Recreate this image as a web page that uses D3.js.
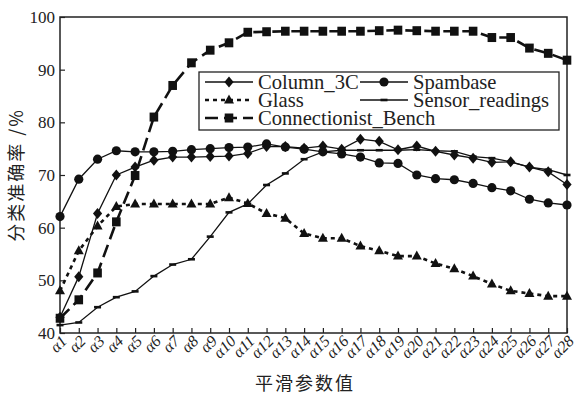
<!DOCTYPE html>
<html lang="zh">
<head>
  <meta charset="UTF-8">
  <title>分类准确率 vs 平滑参数值</title>
  <script src="https://d3js.org/d3.v7.min.js"></script>
  <style>
    body { margin: 0; background: #fff; }
    text { font-family: "Liberation Serif", "DejaVu Serif", serif; fill: #222; }
    .cjk { font-family: "Noto Sans CJK SC", sans-serif; }
  </style>
</head>
<body>
<script>
// categories: smoothing parameter values a1..a28
const params = d3.range(1, 29).map(i => "α" + i);
const yTicks = [40, 50, 60, 70, 80, 90, 100];

// series values (classification accuracy %)
const column3C = [43.0, 50.7, 62.7, 70.0, 71.5, 72.8, 73.4, 73.4, 73.5, 73.6, 74.1, 75.4, 75.4, 75.1,
  75.5, 74.9, 76.8, 76.4, 74.8, 75.5, 74.5, 73.8, 73.2, 72.4, 72.5, 71.5, 70.6, 68.2];
const spambase = [62.1, 69.2, 73.0, 74.6, 74.4, 74.4, 74.5, 74.8, 75.0, 75.2, 75.3, 75.9, 75.3, 74.9,
  74.4, 74.0, 73.4, 72.3, 72.2, 70.0, 69.3, 69.1, 68.4, 67.6, 67.0, 65.4, 64.7, 64.3];
const glass = [48.0, 55.6, 60.3, 64.0, 64.5, 64.5, 64.5, 64.5, 64.5, 65.7, 64.6, 62.7, 61.8, 58.9,
  58.0, 58.0, 56.5, 55.6, 54.6, 54.6, 53.2, 52.2, 50.8, 49.3, 48.0, 47.5, 47.0, 47.0];
const sensorReadings = [41.5, 42.0, 44.9, 46.8, 47.9, 50.8, 53.0, 54.0, 58.3, 62.9, 64.5, 68.1, 70.3, 73.0,
  74.4, 74.7, 74.7, 74.7, 74.7, 74.8, 74.6, 74.5, 73.5, 73.2, 72.5, 71.5, 71.0, 70.0];
const connectionistBench = [42.8, 46.3, 51.4, 61.1, 69.9, 81.0, 87.0, 91.3, 93.7, 95.1, 97.1, 97.2, 97.3, 97.3,
  97.3, 97.3, 97.3, 97.4, 97.5, 97.4, 97.3, 97.3, 97.3, 96.1, 96.1, 94.1, 93.1, 91.8];

const series = [
  { name: "Column_3C", values: column3C, marker: "diamond", dash: null, width: 1.3 },
  { name: "Spambase", values: spambase, marker: "circle", dash: null, width: 1.3 },
  { name: "Glass", values: glass, marker: "triangle", dash: "4,4", width: 2.6 },
  { name: "Sensor_readings", values: sensorReadings, marker: "bar", dash: null, width: 1.3 },
  { name: "Connectionist_Bench", values: connectionistBench, marker: "square", dash: "13,6", width: 2.6 }
];

const width = 576, height = 395;
const mLeft = 60, mRight = 567, mTop = 17, mBottom = 333;

const svg = d3.select("body").append("svg")
  .attr("width", width)
  .attr("height", height);

const x = d3.scalePoint().domain(params).range([mLeft, mRight]);
const y = d3.scaleLinear().domain([40, 100]).range([mBottom, mTop]);

// y axis ticks and labels
const yAxis = svg.append("g").attr("transform", `translate(${mLeft},0)`)
  .call(d3.axisRight(y).tickValues(yTicks).tickSize(5).tickFormat(""));
yAxis.select(".domain").remove();
yAxis.selectAll("line").attr("stroke", "#222").attr("stroke-width", 1.2);
svg.append("g").selectAll("text").data(yTicks).enter().append("text")
  .attr("x", mLeft - 5)
  .attr("y", d => y(d) + 6)
  .attr("text-anchor", "end")
  .style("font-size", "17px")
  .text(d => d);

// x axis ticks and rotated labels
const xAxis = svg.append("g").attr("transform", `translate(0,${mBottom})`)
  .call(d3.axisTop(x).tickSize(5).tickFormat(""));
xAxis.select(".domain").remove();
xAxis.selectAll("line").attr("stroke", "#222").attr("stroke-width", 1.2);
svg.append("g").selectAll("text").data(params).enter().append("text")
  .attr("transform", d => `translate(${x(d) + 8},${mBottom + 9}) rotate(-45)`)
  .attr("text-anchor", "end")
  .style("font-size", "16px")
  .style("font-style", "italic")
  .text(d => d);

// frame
svg.append("rect")
  .attr("x", mLeft).attr("y", mTop)
  .attr("width", mRight - mLeft).attr("height", mBottom - mTop)
  .attr("fill", "none").attr("stroke", "#222").attr("stroke-width", 1.5);

// marker drawing
function drawMarker(g, type, cx, cy) {
  if (type === "circle") {
    g.append("circle").attr("cx", cx).attr("cy", cy).attr("r", 4.6).attr("fill", "#111");
  } else if (type === "diamond") {
    g.append("path").attr("d", `M${cx},${cy - 5.5}L${cx + 4.6},${cy}L${cx},${cy + 5.5}L${cx - 4.6},${cy}Z`).attr("fill", "#111");
  } else if (type === "triangle") {
    g.append("path").attr("d", `M${cx},${cy - 5.5}L${cx + 5},${cy + 3.5}L${cx - 5},${cy + 3.5}Z`).attr("fill", "#111");
  } else if (type === "square") {
    g.append("rect").attr("x", cx - 4.3).attr("y", cy - 4.5).attr("width", 8.6).attr("height", 9).attr("fill", "#111");
  } else if (type === "bar") {
    g.append("rect").attr("x", cx - 3.5).attr("y", cy - 1.3).attr("width", 7).attr("height", 2.6).attr("fill", "#111");
  }
}

const line = d3.line()
  .x((d, i) => x(params[i]))
  .y(d => y(d));

series.forEach(s => {
  const g = svg.append("g");
  g.append("path")
    .datum(s.values)
    .attr("d", line)
    .attr("fill", "none")
    .attr("stroke", "#111")
    .attr("stroke-width", s.width)
    .attr("stroke-dasharray", s.dash);
  s.values.forEach((v, i) => drawMarker(g, s.marker, x(params[i]), y(v)));
});

// legend
const legend = svg.append("g");
legend.append("rect")
  .attr("x", 199).attr("y", 72)
  .attr("width", 360).attr("height", 58)
  .attr("fill", "#fff").attr("stroke", "#222").attr("stroke-width", 1.3);

const legendPos = [
  { s: series[0], x: 205, row: 0 },
  { s: series[1], x: 360, row: 0 },
  { s: series[2], x: 205, row: 1 },
  { s: series[3], x: 360, row: 1 },
  { s: series[4], x: 205, row: 2 }
];
legendPos.forEach(p => {
  const cy = 82 + p.row * 18;
  const lg = legend.append("g");
  lg.append("line")
    .attr("x1", p.x).attr("x2", p.x + 48)
    .attr("y1", cy).attr("y2", cy)
    .attr("stroke", "#111")
    .attr("stroke-width", p.s.width)
    .attr("stroke-dasharray", p.s.dash);
  drawMarker(lg, p.s.marker, p.x + 24, cy);
  lg.append("text")
    .attr("x", p.x + 53)
    .attr("y", cy + 7)
    .style("font-size", "20.6px")
    .text(p.s.name);
});

// axis titles
svg.append("text")
  .attr("class", "cjk")
  .attr("transform", `translate(23,${(mTop + mBottom) / 2}) rotate(-90)`)
  .attr("text-anchor", "middle")
  .style("font-size", "18px")
  .style("letter-spacing", "2px")
  .text("分类准确率 /%");

svg.append("text")
  .attr("class", "cjk")
  .attr("x", 305)
  .attr("y", 390)
  .attr("text-anchor", "middle")
  .style("font-size", "18px")
  .style("letter-spacing", "2px")
  .text("平滑参数值");
</script>
</body>
</html>
